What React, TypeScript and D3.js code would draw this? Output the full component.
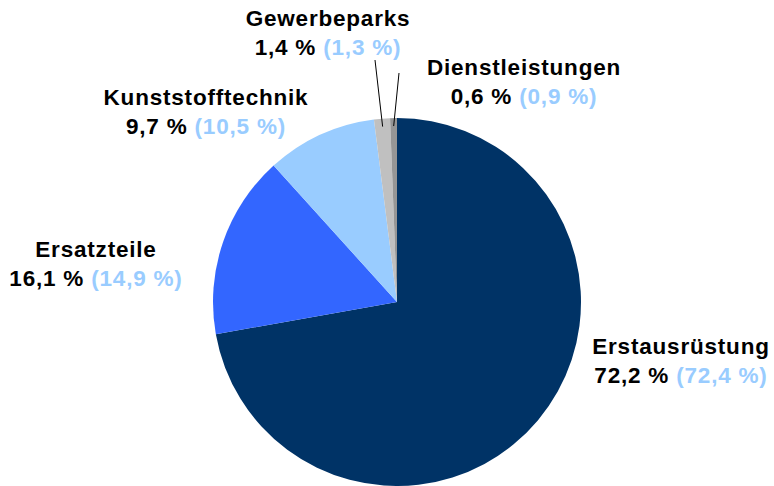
import React from "react";
import * as d3 from "d3";

const categories = ["Erstausrüstung", "Ersatzteile", "Kunststofftechnik", "Gewerbeparks", "Dienstleistungen"];
const currentValues = [72.2, 16.1, 9.7, 1.4, 0.6];
const previousValues = [72.4, 14.9, 10.5, 1.3, 0.9];
const colors = ["#003366", "#3366ff", "#99ccff", "#c0c0c0", "#969696"];

// label placement (layout only)
const labelPos = [
  { x: 681, y: 354 },
  { x: 96, y: 257 },
  { x: 206, y: 105 },
  { x: 328, y: 26 },
  { x: 524, y: 75 },
];
const leaders: (null | { x: number; y: number })[] = [null, null, null, { x: 375, y: 60 }, { x: 399, y: 73 }];

const fmt = (v: number) => v.toFixed(1).replace(".", ",") + " %";

export default function App() {
  const width = 774;
  const height = 486;
  const cx = 397;
  const cy = 302;
  const r = 184;
  const pie = d3.pie<number>().sort(null).value((d) => d)(currentValues);
  const arc = d3.arc<d3.PieArcDatum<number>>().innerRadius(0).outerRadius(r);
  const inner = d3.arc<d3.PieArcDatum<number>>().innerRadius(r - 8).outerRadius(r - 8);
  return (
    <svg width={width} height={height} style={{ position: "absolute", left: 0, top: 0 }}
      fontFamily="'Liberation Sans', Arial, sans-serif" fontWeight="bold" fontSize={22.5} letterSpacing={0.8}>
      <g transform={`translate(${cx},${cy})`}>
        {pie.map((p, i) => (
          <path key={i} d={arc(p) || ""} fill={colors[i]} />
        ))}
        {pie.map((p, i) => {
          const l = leaders[i];
          if (!l) return null;
          const [x, y] = inner.centroid(p);
          return <line key={"l" + i} x1={x} y1={y} x2={l.x - cx} y2={l.y - cy} stroke="#000" strokeWidth={1} />;
        })}
      </g>
      {categories.map((c, i) => (
        <text key={c} x={labelPos[i].x} y={labelPos[i].y} textAnchor="middle" fill="#000">
          <tspan x={labelPos[i].x}>{c}</tspan>
          <tspan x={labelPos[i].x} dy={28.5}>
            {fmt(currentValues[i])}
            <tspan fill="#99ccff">{" (" + fmt(previousValues[i]) + ")"}</tspan>
          </tspan>
        </text>
      ))}
    </svg>
  );
}
